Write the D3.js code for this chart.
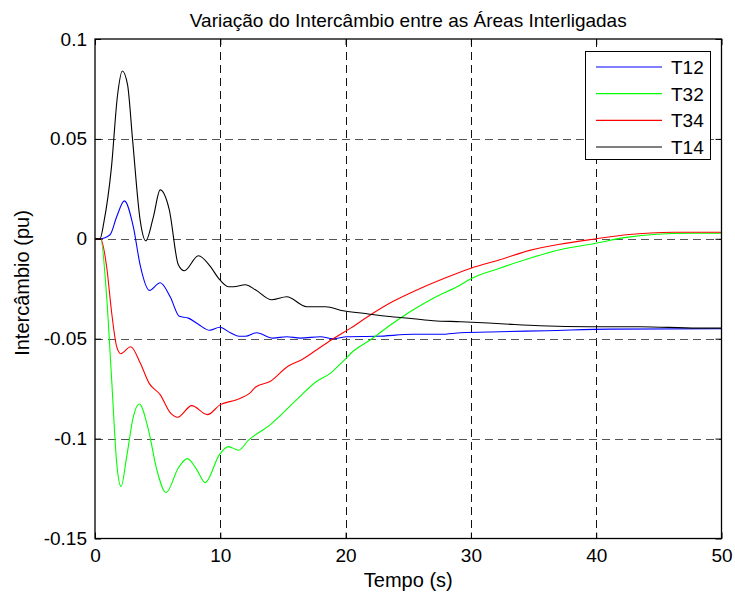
<!DOCTYPE html>
<html>
<head>
<meta charset="utf-8">
<script src="https://cdn.jsdelivr.net/npm/d3@7"></script>
<style>
  html, body { margin: 0; padding: 0; background: #ffffff; }
  text { font-family: "Liberation Sans", Arial, sans-serif; fill: #000; }
</style>
</head>
<body>
<svg id="chart" width="735" height="596"></svg>
<script>
// ---- Data ----
const title = "Variação do Intercâmbio entre as Áreas Interligadas";
const xLabel = "Tempo (s)";
const yLabel = "Intercâmbio (pu)";
const xTicks = [0, 10, 20, 30, 40, 50];
const yTicks = [0.1, 0.05, 0, -0.05, -0.1, -0.15];
const yTickLabels = ["0.1", "0.05", "0", "-0.05", "-0.1", "-0.15"];
const seriesNames = ["T12", "T32", "T34", "T14"];
const seriesColors = ["#0000ff", "#00ff00", "#ff0000", "#000000"];

const t12_t = [0, 0.4, 1.2, 1.73, 2.34, 3.06, 3.6, 4.34, 5.2, 6.0, 6.73, 7.45, 8.25, 9.15, 9.95, 10.8, 11.5, 12.0, 12.9, 14.2, 15.3, 16.4, 18.0, 19.0, 20.1, 22.5, 25.4, 27.6, 29.2, 32.3, 36.1, 41.1, 50];
const t12_v = [0, 0, 0.002, 0.011, 0.019, 0.006, -0.013, -0.0258, -0.022, -0.029, -0.0388, -0.0397, -0.0428, -0.0458, -0.0443, -0.047, -0.0488, -0.0488, -0.047, -0.0497, -0.049, -0.0497, -0.049, -0.050, -0.049, -0.0488, -0.0478, -0.0478, -0.047, -0.0465, -0.046, -0.0452, -0.045];

const t32_t = [0, 0.45, 0.93, 1.33, 1.73, 2.08, 2.53, 3.06, 3.54, 4.26, 4.93, 5.67, 6.65, 7.37, 8.12, 8.79, 9.93, 10.65, 11.45, 12.25, 14.0, 16.1, 17.7, 18.8, 19.8, 20.6, 22.0, 23.6, 25.4, 27.0, 29.2, 30, 32.3, 34.7, 37.1, 40, 42.4, 47.3, 50];
const t32_v = [0, 0, -0.029, -0.0705, -0.112, -0.124, -0.109, -0.089, -0.0827, -0.0955, -0.1155, -0.127, -0.1147, -0.110, -0.1155, -0.122, -0.108, -0.104, -0.1058, -0.1008, -0.093, -0.0805, -0.0713, -0.0672, -0.0613, -0.0563, -0.0505, -0.043, -0.0355, -0.0297, -0.023, -0.020, -0.0147, -0.0097, -0.0055, -0.0022, 0.0007, 0.0028, 0.0028];

const t34_t = [0, 0.45, 0.93, 1.33, 1.73, 2.05, 2.85, 3.6, 4.34, 5.2, 6.0, 6.6, 7.72, 8.97, 10.0, 11.3, 12.4, 12.8, 14.0, 15.4, 16.5, 17.7, 19.0, 20.4, 22.0, 23.8, 26.0, 27.6, 30, 32.3, 34.7, 37.1, 40, 42.4, 46.2, 50];
const t34_v = [0, 0, -0.014, -0.037, -0.054, -0.0575, -0.054, -0.062, -0.0725, -0.078, -0.087, -0.0893, -0.0835, -0.088, -0.083, -0.0805, -0.077, -0.0743, -0.0713, -0.0638, -0.0605, -0.0555, -0.050, -0.0447, -0.038, -0.0313, -0.0247, -0.0205, -0.0147, -0.0105, -0.0058, -0.0027, 0.0, 0.002, 0.0033, 0.0033];

const t14_t = [0, 0.4, 0.72, 1.3, 1.8, 2.18, 2.6, 3.0, 3.6, 4.05, 4.66, 5.2, 5.93, 6.65, 7.13, 8.25, 9.2, 9.85, 10.65, 11.05, 12.0, 12.8, 14.1, 15.3, 16.9, 18.4, 19.8, 21.7, 23.3, 25.4, 27.0, 29.2, 32.4, 35.5, 39.5, 43.5, 48.1, 50];
const t14_v = [0, 0, 0.0087, 0.035, 0.072, 0.084, 0.077, 0.0495, 0.0095, -0.001, 0.011, 0.0245, 0.0145, -0.013, -0.016, -0.0085, -0.0138, -0.0197, -0.024, -0.024, -0.023, -0.0255, -0.0305, -0.029, -0.034, -0.034, -0.036, -0.0375, -0.0388, -0.040, -0.041, -0.0415, -0.0425, -0.0435, -0.044, -0.044, -0.0447, -0.0447];

const seriesT = [t12_t, t32_t, t34_t, t14_t];
const seriesV = [t12_v, t32_v, t34_v, t14_v];

// ---- Layout ----
const svg = d3.select("#chart");
const pL = 95, pR = 721.5, pT = 39, pB = 538.5;

const x = d3.scaleLinear().domain([0, 50]).range([pL, pR]);
const y = d3.scaleLinear().domain([-0.15, 0.1]).range([pB, pT]);

// grid
const grid = svg.append("g");
grid.selectAll("line.vg").data(xTicks.slice(1, -1)).enter().append("line")
  .attr("x1", d => Math.round(x(d)) + 0.5).attr("x2", d => Math.round(x(d)) + 0.5)
  .attr("y1", pT).attr("y2", pB)
  .attr("stroke", "#111").attr("stroke-width", 1).attr("stroke-dasharray", "8,5");
grid.selectAll("line.hg").data(yTicks.slice(1, -1)).enter().append("line")
  .attr("y1", d => Math.round(y(d)) + 0.5).attr("y2", d => Math.round(y(d)) + 0.5)
  .attr("x1", pL).attr("x2", pR)
  .attr("stroke", "#555").attr("stroke-width", 1.2).attr("stroke-dasharray", "8,5");

// lines
const line = d3.line().curve(d3.curveMonotoneX).x(d => x(d[0])).y(d => y(d[1]));
seriesNames.forEach((name, i) => {
  const pts = seriesT[i].map((t, k) => [t, seriesV[i][k]]);
  svg.append("path").datum(pts)
    .attr("fill", "none").attr("stroke", seriesColors[i]).attr("stroke-width", 1.1)
    .attr("d", line);
});

// axes (MATLAB style: ticks inside, box)
const tickLen = 6;
const axB = d3.axisBottom(x).tickValues(xTicks).tickSize(-tickLen).tickPadding(10).tickFormat(d3.format("d"));
const axT = d3.axisTop(x).tickValues(xTicks).tickSize(-tickLen).tickFormat("");
const axL = d3.axisLeft(y).tickValues(yTicks).tickSize(-tickLen).tickPadding(8).tickFormat((d, i) => yTickLabels[i]);
const axR = d3.axisRight(y).tickValues(yTicks).tickSize(-tickLen).tickFormat("");

function styleAxis(g) {
  g.select(".domain").remove();
  g.selectAll(".tick line").attr("stroke", "#000");
  g.selectAll(".tick text").style("font-size", "19px").style("font-family", "'Liberation Sans', Arial, sans-serif");
}
svg.append("g").attr("transform", `translate(0,${pB})`).call(axB).call(styleAxis);
svg.append("g").attr("transform", `translate(0,${pT})`).call(axT).call(styleAxis);
svg.append("g").attr("transform", `translate(${pL},0)`).call(axL).call(styleAxis);
svg.append("g").attr("transform", `translate(${pR},0)`).call(axR).call(styleAxis);

// box
svg.append("rect").attr("x", pL).attr("y", pT).attr("width", pR - pL).attr("height", pB - pT)
  .attr("fill", "none").attr("stroke", "#000").attr("stroke-width", 1.3);

// title and labels
svg.append("text").attr("x", (pL + pR) / 2).attr("y", 27).attr("text-anchor", "middle")
  .style("font-size", "19px").text(title);
svg.append("text").attr("x", (pL + pR) / 2).attr("y", 587).attr("text-anchor", "middle")
  .style("font-size", "20px").text(xLabel);
svg.append("text").attr("transform", "translate(29,283) rotate(-90)").attr("text-anchor", "middle")
  .style("font-size", "20px").text(yLabel);

// legend
const lg = svg.append("g");
const lgX = 585, lgY = 51, lgW = 125, lgH = 108;
lg.append("rect").attr("x", lgX + 0.5).attr("y", lgY + 0.5).attr("width", lgW).attr("height", lgH)
  .attr("fill", "#fff").attr("stroke", "#000").attr("stroke-width", 1);
const rowY = d3.scalePoint().domain(seriesNames).range([lgY + 16, lgY + 96]);
seriesNames.forEach((name, i) => {
  lg.append("line").attr("x1", 596).attr("x2", 662).attr("y1", rowY(name)).attr("y2", rowY(name))
    .attr("stroke", seriesColors[i]).attr("stroke-width", 1.1);
  lg.append("text").attr("x", 671).attr("y", rowY(name)).attr("dy", "0.36em")
    .style("font-size", "19px").text(name);
});
</script>
</body>
</html>
